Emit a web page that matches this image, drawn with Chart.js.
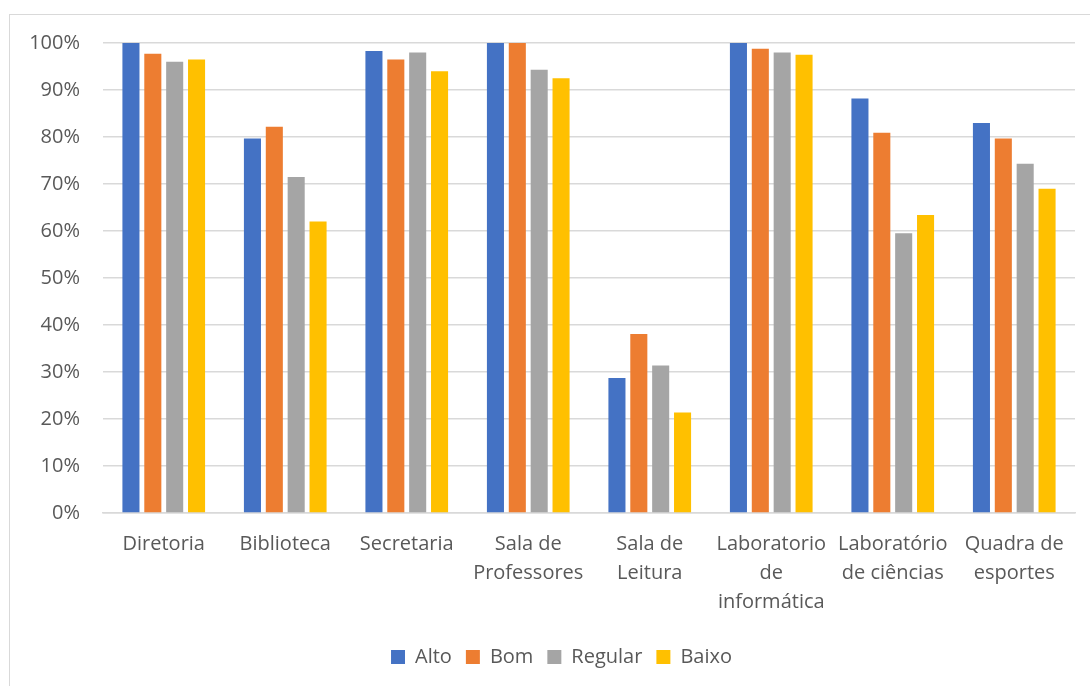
<meta charset="UTF-8">
<style>
    body { margin: 0; background: #fff; }
    #frame { position: absolute; left: 9px; top: 14px; width: 1100px; height: 700px; border: 1px solid #d9d9d9; }
    #wrap { position: absolute; left: 0; top: 0; width: 1090px; height: 686px; }
</style>

<div id="frame"></div>
<div id="wrap"><canvas id="myChart"></canvas></div>

<script src="https://cdn.jsdelivr.net/npm/chart.js@4"></script>

<script>
    var categories = [
        'Diretoria',
        'Biblioteca',
        'Secretaria',
        ['Sala de', 'Professores'],
        ['Sala de', 'Leitura'],
        ['Laboratorio', 'de', 'informática'],
        ['Laboratório', 'de ciências'],
        ['Quadra de', 'esportes']
    ];
    var alto    = [100, 79.7, 98.3, 100, 28.7, 100, 88.2, 83.0];
    var bom     = [97.7, 82.2, 96.5, 100, 38.1, 98.8, 80.9, 79.7];
    var regular = [96.0, 71.5, 98.0, 94.3, 31.4, 98.0, 59.5, 74.3];
    var baixo   = [96.5, 62.0, 94.0, 92.5, 21.4, 97.5, 63.4, 69.0];
    var yTicks  = [0, 10, 20, 30, 40, 50, 60, 70, 80, 90, 100];

    var textColor = '#595959';
    var gridColor = '#d9d9d9';
    Chart.defaults.font.family = '"Open Sans", sans-serif';
    Chart.defaults.font.size = 20;
    Chart.defaults.color = textColor;

    // legend sits centred on the outer frame, not on the canvas
    var shiftLegend = {
        id: 'shiftLegend',
        afterLayout: function (chart) {
            chart.legend.left += 24;
            chart.legend.right += 24;
        }
    };

    function displayChart() {
        var ctx = document.getElementById('myChart').getContext('2d');
        var chart = new Chart(ctx, {
            type: 'bar',
            data: {
                labels: categories,
                datasets: [
                    { label: 'Alto',    backgroundColor: '#4472C4', data: alto },
                    { label: 'Bom',     backgroundColor: '#ED7D31', data: bom },
                    { label: 'Regular', backgroundColor: '#A5A5A5', data: regular },
                    { label: 'Baixo',   backgroundColor: '#FFC000', data: baixo }
                ]
            },
            options: {
                responsive: false,
                animation: false,
                layout: { padding: { top: 43, right: 15, bottom: 9, left: 0 } },
                datasets: { bar: { categoryPercentage: 0.72, barPercentage: 0.78 } },
                plugins: {
                    tooltip: { enabled: false },
                    legend: {
                        position: 'bottom',
                        labels: { boxWidth: 14, boxHeight: 14, padding: 14, color: textColor }
                    }
                },
                scales: {
                    x: {
                        grid: { display: false },
                        border: { color: gridColor, width: 1.5 },
                        ticks: { padding: 9, maxRotation: 0, autoSkip: false, font: { lineHeight: 1.45 } },
                        afterFit: function (scale) { scale.height = 120; }
                    },
                    y: {
                        min: 0,
                        max: 100,
                        afterBuildTicks: function (scale) {
                            scale.ticks = yTicks.map(function (v) { return { value: v }; });
                        },
                        grid: { color: gridColor, lineWidth: 1.5, drawTicks: false },
                        border: { display: false },
                        ticks: { padding: 23, callback: function (v) { return v + '%'; } },
                        afterFit: function (scale) { scale.width = 103; }
                    }
                }
            },
            plugins: [shiftLegend]
        });
    }

    var canvas = document.getElementById('myChart');
    canvas.width = 1090;
    canvas.height = 686;
    displayChart();
</script>
